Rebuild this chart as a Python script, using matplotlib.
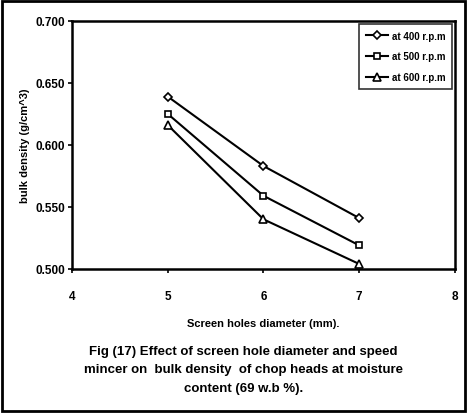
import matplotlib
matplotlib.use('Agg')
from matplotlib import pyplot as plt
from matplotlib.patches import Rectangle

plt.rcParams['font.family'] = ['Liberation Sans', 'DejaVu Sans']
plt.rcParams['font.weight'] = 'bold'

# screen holes diameter (mm)
diameter = [5, 6, 7]
# bulk density values per mincer speed
rpm_400 = [0.639, 0.583, 0.541]
rpm_500 = [0.625, 0.559, 0.519]
rpm_600 = [0.616, 0.540, 0.504]
labels = ['at 400 r.p.m', 'at 500 r.p.m', 'at 600 r.p.m']
x_ticks = [4, 5, 6, 7, 8]
y_ticks = [0.500, 0.550, 0.600, 0.650, 0.700]

fig = plt.figure(figsize=(4.68, 4.14), dpi=100)
ax = fig.add_axes([0.154, 0.348, 0.818, 0.599])

ax.plot(diameter, rpm_400, color='black', lw=1.5, marker='D', ms=4,
        mfc='white', mec='black', mew=1.2, label=labels[0])
ax.plot(diameter, rpm_500, color='black', lw=1.5, marker='s', ms=5,
        mfc='white', mec='black', mew=1.2, label=labels[1])
ax.plot(diameter, rpm_600, color='black', lw=1.5, marker='^', ms=5.5,
        mfc='white', mec='black', mew=1.2, label=labels[2])

ax.set_xlim(4, 8)
ax.set_ylim(0.5, 0.7)
ax.set_xticks(x_ticks)
ax.set_yticks(y_ticks)
ax.set_yticklabels(['%.3f' % v for v in y_ticks])
ax.tick_params(labelsize=8.5, direction='out', length=3, width=1.2, pad=12)
ax.tick_params(axis='y', pad=2)
for s in ax.spines.values():
    s.set_linewidth(1.8)

ax.set_ylabel('bulk density (g/cm^3)', fontsize=8, fontweight='bold', labelpad=4)
ax.set_xlabel('Screen holes diameter (mm).', fontsize=8, fontweight='bold', labelpad=12)

leg = ax.legend(loc='upper right', fontsize=7, frameon=True, fancybox=False,
                edgecolor='black', handlelength=2.2, labelspacing=1.1,
                borderpad=0.7, borderaxespad=0.3, handletextpad=0.4)
leg.get_frame().set_linewidth(1.2)

caption = ['Fig (17) Effect of screen hole diameter and speed',
           'mincer on  bulk density  of chop heads at moisture',
           'content (69 w.b %).']
for i, line in enumerate(caption):
    fig.text(0.52, 0.150 - i * 0.0445, line, ha='center', va='center',
             fontsize=9.5, fontweight='bold')

fig.patches.append(Rectangle((0.004, 0.004), 0.99, 0.99, transform=fig.transFigure,
                             fill=False, edgecolor='black', lw=2))

fig.savefig('out.png', dpi=100)
